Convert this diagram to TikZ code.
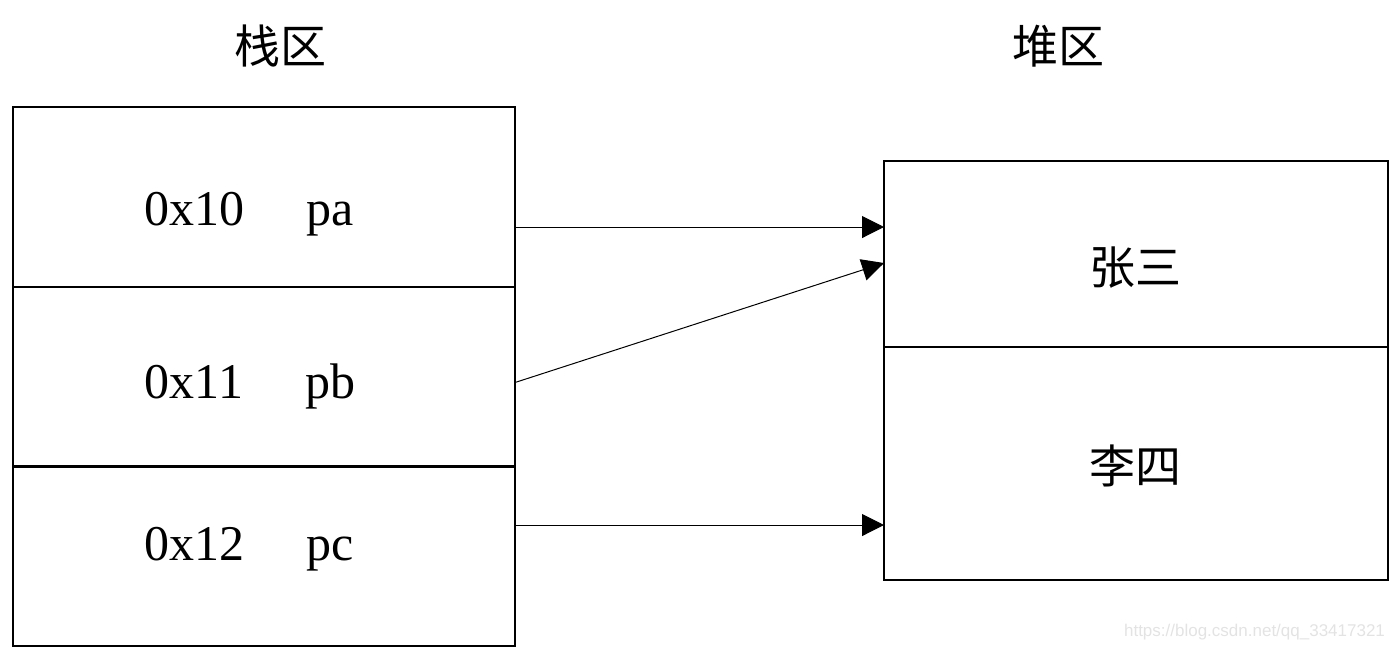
\documentclass[tikz,border=0pt]{standalone}
\usepackage{fontspec}
\setmainfont{Liberation Serif}
\newfontfamily\cjk{Noto Sans CJK SC}
\newfontfamily\marksf{Liberation Sans}
\usetikzlibrary{arrows.meta, positioning}
\tikzset{
  cell/.style={draw, line width=1pt, inner sep=0pt, outer sep=0pt},
  ptr/.style={line width=0.5pt, -{Triangle[length=11pt, width=11pt]}},
  lbl/.style={font=\fontsize{25}{30}\selectfont, anchor=base},
  zh/.style={font=\cjk\fontsize{23}{28}\selectfont}
}
\begin{document}
\begin{tikzpicture}[x=0.5pt, y=-0.5pt]
  \useasboundingbox (0,0) rectangle (1400,650);

  % stack side
  \node[zh] (stacktitle) at (280,46) {栈区};
  \foreach \i/\y/\b/\addr/\name in {1/197/225/0x10/pa, 2/377/398/0x11/pb, 3/556/560/0x12/pc} {
    \node[cell, minimum width=251pt, minimum height=89.6pt] (s\i) at (264,\y) {};
    \node[lbl] (a\i) at (194,\b) {\addr};
    \node[lbl] (n\i) at (330,\b) {\name};
  }

  % heap side
  \node[zh] (heaptitle) at (1058,46) {堆区};
  \node[cell, minimum width=252pt, minimum height=93pt] (h1) at (1136,254) {};
  \node[cell, minimum width=252pt, minimum height=116.5pt] (h2) at (1136,463.5) {};
  \node[zh] (zs) at (1135,268) {张三};
  \node[zh] (ls) at (1135,466) {李四};

  % pointers
  \coordinate (pa out) at ([yshift=-15pt]s1.east);
  \coordinate (pb out) at ([yshift=-2.75pt]s2.east);
  \coordinate (pb in) at ([yshift=-4.5pt]h1.west);
  \coordinate (pc out) at ([yshift=15.5pt]s3.east);
  \draw[ptr] (pa out) -- (pa out -| h1.west);
  \draw[ptr] (pb out) -- (pb in);
  \draw[ptr] (pc out) -- (pc out -| h2.west);

  \node[font=\marksf\fontsize{8.5}{10}\selectfont, text=gray!22, anchor=east] (mark) at (1392,632) {https://blog.csdn.net/qq\_33417321};
\end{tikzpicture}
\end{document}
